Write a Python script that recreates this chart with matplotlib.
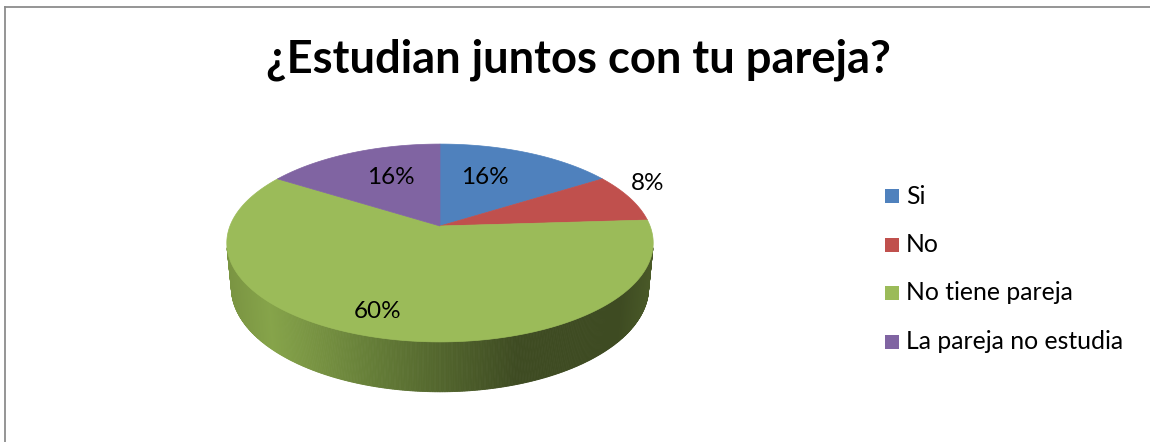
import numpy as np
import matplotlib.pyplot as plt
from matplotlib.patches import Polygon, Rectangle

# -------- Data -------- #
title = "¿Estudian juntos con tu pareja?"
labels = ["Si", "No", "No tiene pareja", "La pareja no estudia"]
values = [16, 8, 60, 16]
colors = ["#4F81BD", "#C0504D", "#9BBB59", "#8064A2"]

# -------- 3D pie camera (pixel space) -------- #
elev = np.radians(27.2)
dist = 5.18
focal = 1088
cx, cy = 440, 226
thick = 0.24


def project(theta, r=1.0, y=0.0):
    # theta = 0 at back (top of image), clockwise seen from above
    X = r * np.sin(theta)
    Z = -r * np.cos(theta)
    up = y * np.cos(elev) - Z * np.sin(elev)
    d = dist - (Z * np.cos(elev) + y * np.sin(elev))
    return cx + focal * X / d, cy - focal * up / d


def side_color(t):
    # shading of the wall from left (t=0) to right (t=1)
    stops = [(0.0, (122, 148, 66)), (0.1, (134, 164, 74)), (0.35, (100, 124, 55)),
             (0.68, (62, 75, 34)), (0.92, (62, 75, 34)), (1.0, (74, 90, 40))]
    for (t0, c0), (t1, c1) in zip(stops[:-1], stops[1:]):
        if t <= t1:
            f = (t - t0) / (t1 - t0)
            return tuple((a + (b - a) * f) / 255 for a, b in zip(c0, c1))
    return tuple(v / 255 for v in stops[-1][1])


fig = plt.figure(figsize=(11.5, 4.42), dpi=100)
ax = fig.add_axes([0, 0, 1, 1])
ax.set_xlim(0, 1150)
ax.set_ylim(442, 0)
ax.axis('off')

# chart frame (left + top visible)
ax.plot([5, 5], [442, 7], color='#8C8C8C', lw=1.3)
ax.plot([5, 1150], [7, 7], color='#8C8C8C', lw=1.3)

# -------- Slice angles -------- #
total = sum(values)
bounds = np.concatenate([[0], np.cumsum(values)]) / total * 2 * np.pi

# -------- Side wall (front, visible part) -------- #
lim = np.arccos(-1 / (dist * np.cos(elev)))
ths = np.linspace(lim, 2 * np.pi - lim, 400)
for a, b in zip(ths[:-1], ths[1:]):
    pts = [project(a), project(b), project(b, y=-thick), project(a, y=-thick)]
    xm = np.mean([p[0] for p in pts])
    c = side_color(np.clip((xm - 228) / (652 - 228), 0, 1))
    ax.add_patch(Polygon(pts, closed=True, facecolor=c, edgecolor=c, lw=0.6))

# -------- Top faces -------- #
for i in range(len(values)):
    th = np.linspace(bounds[i], bounds[i + 1], 200)
    pts = [project(0, r=0)] + [project(t) for t in th]
    ax.add_patch(Polygon(pts, closed=True, facecolor=colors[i], edgecolor=colors[i], lw=0.5))

# -------- Data labels -------- #
label_pos = [(485, 178), (648, 184), (378, 312), (391, 178)]
for v, (x, y) in zip(values, label_pos):
    ax.text(x, y, f"{v}%", ha='center', va='center', fontsize=17.5, family='Lato', color='black')

# -------- Title -------- #
ax.text(578, 60, title, ha='center', va='center', fontsize=32.7, family='Lato',
        fontweight='bold', color='black')

# -------- Legend -------- #
for i, lab in enumerate(labels):
    yc = 196 + i * 48.5
    ax.add_patch(Rectangle((885, yc - 7), 14, 14, facecolor=colors[i], edgecolor='none'))
    ax.text(906, yc, lab, ha='left', va='center', fontsize=17.8, family='Lato', color='black')

fig.savefig('out.png', dpi=100)
